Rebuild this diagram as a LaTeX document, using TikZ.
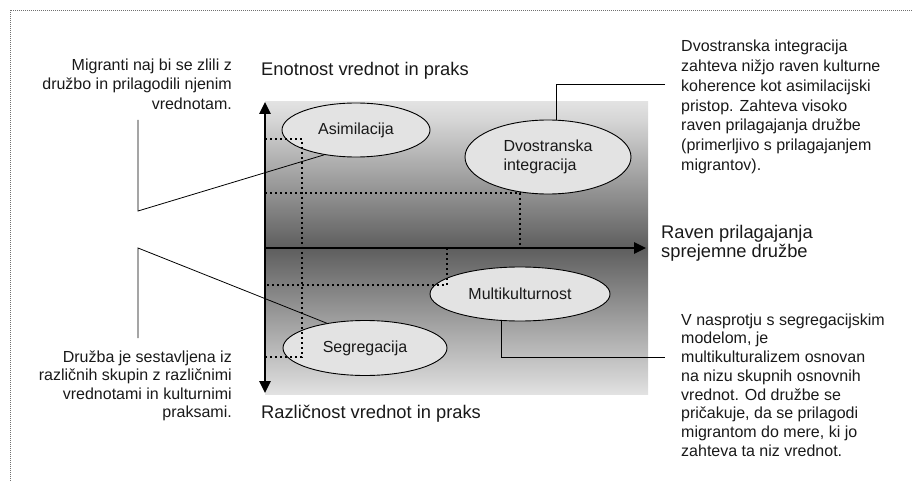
\documentclass[tikz,border=0pt]{standalone}
\usepackage{fontspec}
\setmainfont{Liberation Sans}
\usetikzlibrary{shapes.geometric,arrows.meta}
\definecolor{shL}{HTML}{E2E2E2}
\definecolor{shM}{HTML}{D6D6D6}
\definecolor{shD}{HTML}{5E5E5E}
\definecolor{ellfill}{HTML}{E3E3E3}
\definecolor{framegray}{HTML}{707070}
\pgfdeclareverticalshading{axshade}{100bp}{color(0bp)=(shL); color(25bp)=(shL); color(27bp)=(shM); color(50bp)=(shD); color(72bp)=(shM); color(75bp)=(shL); color(100bp)=(shL)}
\tikzset{
  ell/.style={ellipse, draw=black, line width=0.9pt, fill=ellfill, inner sep=0pt, font=\fontsize{16}{19}\selectfont, text=black!90},
  notetext/.style={inner sep=0pt, font=\fontsize{16}{19.5}\selectfont, text=black!90},
  axlabel/.style={inner sep=0pt, font=\fontsize{18.3}{18.5}\selectfont, text=black!90},
  axisline/.style={line width=2.6pt, -{Triangle[length=12pt,width=11pt]}},
  griddots/.style={line width=1.9pt, dash pattern=on 1.9pt off 3.1pt, black},
  calloutline/.style={line width=0.8pt, black},
  framedot/.style={line width=0.8pt, dash pattern=on 0.8pt off 1.2pt, framegray}
}
\begin{document}
\begin{tikzpicture}[x=1pt,y=-1pt]
\useasboundingbox (0,0) rectangle (913,481);
% frame
\draw[framedot] (10,481) -- (10,10) -- (913,10);
% shaded field
\shade[shading=axshade] (265,102) rectangle (648,394);
% ellipses
\node[ell, minimum width=148pt, minimum height=54pt] (asim) at (356,130) {Asimilacija};
\node[ell, minimum width=166pt, minimum height=74pt, align=left] (dvo) at (548,157) {Dvostranska\\integracija};
\node[ell, minimum width=180pt, minimum height=54pt] (multi) at (520,294) {Multikulturnost};
\node[ell, minimum width=164pt, minimum height=55pt] (segr) at (365,348) {Segregacija};
% dotted guide lines
\draw[griddots] (265,139) -- (302,139) -- (302,357) -- (265,357);
\draw[griddots] (265,193) -- (520,193) -- (520,248);
\draw[griddots] (447,248) -- (447,285) -- (265,285);
% axes
\coordinate (vtop) at (265,102);
\coordinate (vbot) at (265,393);
\coordinate (orig) at (265,248);
\coordinate (hend) at (646,248);
\draw[axisline, {Triangle[length=12pt,width=11pt]}-{Triangle[length=12pt,width=11pt]}] (vtop) -- (vbot);
\draw[axisline] (orig) -- (hend);
% axis labels
\node[axlabel, anchor=base west] (enot) at (261,76) {Enotnost vrednot in praks};
\node[axlabel, anchor=base west] (razl) at (261,418) {Različnost vrednot in praks};
\node[axlabel, align=left, anchor=west] (raven) at (661,243.5) {Raven prilagajanja\\sprejemne družbe};
% notes
\node[notetext, align=right, anchor=east] (mig) at (232,84) {Migranti naj bi se zlili z\\družbo in prilagodili njenim\\vrednotam.};
\node[notetext, align=right, anchor=east, font=\fontsize{16}{18.5}\selectfont] (druz) at (232,385.6) {Družba je sestavljena iz\\različnih skupin z različnimi\\vrednotami in kulturnimi\\praksami.};
\node[notetext, align=left, anchor=west, font=\fontsize{16}{19.8}\selectfont] (dvotext) at (681,107) {Dvostranska integracija\\zahteva nižjo raven kulturne\\koherence kot asimilacijski\\pristop. Zahteva visoko\\raven prilagajanja družbe\\(primerljivo s prilagajanjem\\migrantov).};
\node[notetext, align=left, anchor=west, font=\fontsize{16}{18.7}\selectfont] (vnas) at (681,385) {V nasprotju s segregacijskim\\modelom, je\\multikulturalizem osnovan\\na nizu skupnih osnovnih\\vrednot. Od družbe se\\pričakuje, da se prilagodi\\migrantom do mere, ki jo\\zahteva ta niz vrednot.};
% callout lines
\coordinate (m1) at (138,120);
\coordinate (m2) at (138,211);
\draw[calloutline] (m1) -- (m2) -- (asim.218);
\coordinate (d1) at (138,338);
\coordinate (d2) at (138,248);
\draw[calloutline] (d1) -- (d2) -- (segr.147);
\coordinate (dv1) at (665,84);
\draw[calloutline] (dv1) -| (dvo.78);
\coordinate (mk1) at (665,357);
\draw[calloutline] (multi.236) |- (mk1);
\end{tikzpicture}
\end{document}
